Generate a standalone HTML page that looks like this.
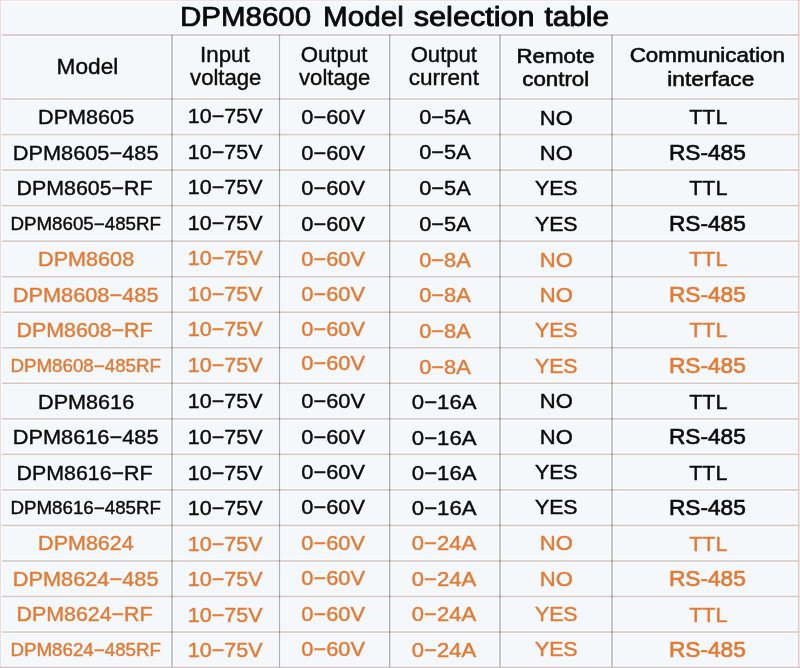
<!DOCTYPE html>
<html><head><meta charset="utf-8"><title>DPM8600 Model selection table</title>
<style>
html,body{margin:0;padding:0;background:#f4f8fa;}
body{width:800px;height:668px;overflow:hidden;position:relative;}
svg{position:absolute;left:0;top:0;display:block;}
text{font-family:"Liberation Sans",Arial,Helvetica,sans-serif;stroke-linejoin:round;}
</style></head><body>
<svg width="800" height="668" viewBox="0 0 800 668">
<rect x="0" y="0" width="800" height="668" fill="#f4f8fa"/>
<g id="grid">
<rect x="170.25" y="35.5" width="3.5" height="633" fill="#ffffff" fill-opacity="0.75"/>
<rect x="277.75" y="35.5" width="3.5" height="633" fill="#ffffff" fill-opacity="0.75"/>
<rect x="387.95" y="35.5" width="3.5" height="633" fill="#ffffff" fill-opacity="0.75"/>
<rect x="498.25" y="35.5" width="3.5" height="633" fill="#ffffff" fill-opacity="0.75"/>
<rect x="610.25" y="35.5" width="3.5" height="633" fill="#ffffff" fill-opacity="0.75"/>
<rect x="0" y="33.10" width="800" height="3.6" fill="#ffffff" fill-opacity="0.75"/>
<rect x="0" y="34.10" width="800" height="1.8" fill="#dac8c6"/>
<rect x="0" y="97.20" width="800" height="3.6" fill="#ffffff" fill-opacity="0.75"/>
<rect x="0" y="98.25" width="800" height="1.55" fill="#d5c7c4"/>
<rect x="0" y="132.73" width="800" height="3.6" fill="#ffffff" fill-opacity="0.75"/>
<rect x="0" y="133.78" width="800" height="1.55" fill="#d5c7c4"/>
<rect x="0" y="168.27" width="800" height="3.6" fill="#ffffff" fill-opacity="0.75"/>
<rect x="0" y="169.32" width="800" height="1.55" fill="#d5c7c4"/>
<rect x="0" y="203.80" width="800" height="3.6" fill="#ffffff" fill-opacity="0.75"/>
<rect x="0" y="204.85" width="800" height="1.55" fill="#d5c7c4"/>
<rect x="0" y="239.33" width="800" height="3.6" fill="#ffffff" fill-opacity="0.75"/>
<rect x="0" y="240.38" width="800" height="1.55" fill="#d5c7c4"/>
<rect x="0" y="274.87" width="800" height="3.6" fill="#ffffff" fill-opacity="0.75"/>
<rect x="0" y="275.92" width="800" height="1.55" fill="#d5c7c4"/>
<rect x="0" y="310.40" width="800" height="3.6" fill="#ffffff" fill-opacity="0.75"/>
<rect x="0" y="311.45" width="800" height="1.55" fill="#d5c7c4"/>
<rect x="0" y="345.93" width="800" height="3.6" fill="#ffffff" fill-opacity="0.75"/>
<rect x="0" y="346.98" width="800" height="1.55" fill="#d5c7c4"/>
<rect x="0" y="381.46" width="800" height="3.6" fill="#ffffff" fill-opacity="0.75"/>
<rect x="0" y="382.51" width="800" height="1.55" fill="#d5c7c4"/>
<rect x="0" y="417.00" width="800" height="3.6" fill="#ffffff" fill-opacity="0.75"/>
<rect x="0" y="418.05" width="800" height="1.55" fill="#d5c7c4"/>
<rect x="0" y="452.53" width="800" height="3.6" fill="#ffffff" fill-opacity="0.75"/>
<rect x="0" y="453.58" width="800" height="1.55" fill="#d5c7c4"/>
<rect x="0" y="488.06" width="800" height="3.6" fill="#ffffff" fill-opacity="0.75"/>
<rect x="0" y="489.11" width="800" height="1.55" fill="#d5c7c4"/>
<rect x="0" y="523.60" width="800" height="3.6" fill="#ffffff" fill-opacity="0.75"/>
<rect x="0" y="524.65" width="800" height="1.55" fill="#d5c7c4"/>
<rect x="0" y="559.13" width="800" height="3.6" fill="#ffffff" fill-opacity="0.75"/>
<rect x="0" y="560.18" width="800" height="1.55" fill="#d5c7c4"/>
<rect x="0" y="594.66" width="800" height="3.6" fill="#ffffff" fill-opacity="0.75"/>
<rect x="0" y="595.71" width="800" height="1.55" fill="#d5c7c4"/>
<rect x="0" y="630.19" width="800" height="3.6" fill="#ffffff" fill-opacity="0.75"/>
<rect x="0" y="631.25" width="800" height="1.55" fill="#d5c7c4"/>
<rect x="171.28" y="34.9" width="1.45" height="634" fill="#b0b4b5" style="mix-blend-mode:multiply"/>
<rect x="278.85" y="34.9" width="1.30" height="634" fill="#b0b4b5" style="mix-blend-mode:multiply"/>
<rect x="389.00" y="34.9" width="1.40" height="634" fill="#b0b4b5" style="mix-blend-mode:multiply"/>
<rect x="499.27" y="34.9" width="1.45" height="634" fill="#b0b4b5" style="mix-blend-mode:multiply"/>
<rect x="611.27" y="34.9" width="1.45" height="634" fill="#b0b4b5" style="mix-blend-mode:multiply"/>
<rect x="0" y="0" width="800" height="2.2" fill="#ffffff" fill-opacity="0.6"/>
<rect x="0" y="0" width="2.3" height="668" fill="#ffffff" fill-opacity="0.6"/>
<rect x="0" y="0" width="800" height="1.0" fill="#ebe3e1"/>
<rect x="0" y="0" width="1.1" height="668" fill="#e6dfdd"/>
<rect x="798.2" y="0" width="1.4" height="668" fill="#d9bfbf"/>
<rect x="799.6" y="0" width="0.4" height="668" fill="#ffffff"/>
<rect x="0" y="666.7" width="800" height="1.3" fill="#d9c1c0"/>
</g>
<g id="labels" style="filter:blur(0.3px)">
<text transform="matrix(1.1016 0 0 1 179.90 26.00)" font-size="26.8" fill="#0b0b0b" stroke="#0b0b0b" stroke-width="0.75">DPM8600</text>
<text transform="matrix(1.1065 0 0 1 323.09 26.00)" font-size="26.8" fill="#0b0b0b" stroke="#0b0b0b" stroke-width="0.75">Model</text>
<text transform="matrix(1.1424 0 0 1 413.77 26.00)" font-size="26.8" fill="#0b0b0b" stroke="#0b0b0b" stroke-width="0.85">selection</text>
<text transform="matrix(1.1106 0 0 1 544.41 26.00)" font-size="26.8" fill="#0b0b0b" stroke="#0b0b0b" stroke-width="0.85">table</text>
<text transform="matrix(1.0443 0 0 1 56.62 73.80)" font-size="21.7" fill="#0b0b0b" stroke="#0b0b0b" stroke-width="0.40">Model</text>
<text transform="matrix(1.0287 0 0 1 200.04 62.40)" font-size="21.7" fill="#0b0b0b" stroke="#0b0b0b" stroke-width="0.40">Input</text>
<text transform="matrix(1.0207 0 0 1 190.07 85.40)" font-size="21.7" fill="#0b0b0b" stroke="#0b0b0b" stroke-width="0.40">voltage</text>
<text transform="matrix(1.0250 0 0 1 300.68 62.40)" font-size="21.7" fill="#0b0b0b" stroke="#0b0b0b" stroke-width="0.40">Output</text>
<text transform="matrix(1.0178 0 0 1 299.07 85.40)" font-size="21.7" fill="#0b0b0b" stroke="#0b0b0b" stroke-width="0.40">voltage</text>
<text transform="matrix(1.0188 0 0 1 410.68 62.40)" font-size="21.7" fill="#0b0b0b" stroke="#0b0b0b" stroke-width="0.40">Output</text>
<text transform="matrix(1.0406 0 0 1 408.69 85.20)" font-size="21.7" fill="#0b0b0b" stroke="#0b0b0b" stroke-width="0.40">current</text>
<text transform="matrix(1.0835 0 0 1 516.50 62.90)" font-size="20.6" fill="#0b0b0b" stroke="#0b0b0b" stroke-width="0.60">Remote</text>
<text transform="matrix(1.0834 0 0 1 522.25 86.00)" font-size="20.6" fill="#0b0b0b" stroke="#0b0b0b" stroke-width="0.60">control</text>
<text transform="matrix(1.0704 0 0 1 629.70 62.10)" font-size="20.9" fill="#0b0b0b" stroke="#0b0b0b" stroke-width="0.60">Communication</text>
<text transform="matrix(1.0851 0 0 1 667.31 86.00)" font-size="20.9" fill="#0b0b0b" stroke="#0b0b0b" stroke-width="0.60">interface</text>
<text transform="matrix(1.0338 0 0 1 38.09 124.25)" font-size="20.9" fill="#0b0b0b" stroke="#0b0b0b" stroke-width="0.40">DPM8605</text>
<text transform="matrix(1.0542 0 0 1 187.82 123.10)" font-size="20.4" fill="#0b0b0b" stroke="#0b0b0b" stroke-width="0.40">10−75V</text>
<text transform="matrix(1.0532 0 0 1 301.31 124.00)" font-size="20.7" fill="#0b0b0b" stroke="#0b0b0b" stroke-width="0.40">0−60V</text>
<text transform="matrix(1.0646 0 0 1 419.20 123.80)" font-size="20.5" fill="#0b0b0b" stroke="#0b0b0b" stroke-width="0.40">0−5A</text>
<text transform="matrix(1.0579 0 0 1 539.87 124.90)" font-size="20.8" fill="#0b0b0b" stroke="#0b0b0b" stroke-width="0.45">NO</text>
<text transform="matrix(1.0386 0 0 1 689.18 123.90)" font-size="20.7" fill="#0b0b0b" stroke="#0b0b0b" stroke-width="0.40">TTL</text>
<text transform="matrix(1.0424 0 0 1 12.68 159.78)" font-size="20.9" fill="#0b0b0b" stroke="#0b0b0b" stroke-width="0.40">DPM8605−485</text>
<text transform="matrix(1.0542 0 0 1 187.82 158.63)" font-size="20.4" fill="#0b0b0b" stroke="#0b0b0b" stroke-width="0.40">10−75V</text>
<text transform="matrix(1.0532 0 0 1 301.31 159.53)" font-size="20.7" fill="#0b0b0b" stroke="#0b0b0b" stroke-width="0.40">0−60V</text>
<text transform="matrix(1.0646 0 0 1 419.20 159.33)" font-size="20.5" fill="#0b0b0b" stroke="#0b0b0b" stroke-width="0.40">0−5A</text>
<text transform="matrix(1.0579 0 0 1 539.87 160.43)" font-size="20.8" fill="#0b0b0b" stroke="#0b0b0b" stroke-width="0.45">NO</text>
<text transform="matrix(1.0214 0 0 1 668.91 159.63)" font-size="22.2" fill="#0b0b0b" stroke="#0b0b0b" stroke-width="0.65">RS-485</text>
<text transform="matrix(1.0232 0 0 1 16.61 195.32)" font-size="20.9" fill="#0b0b0b" stroke="#0b0b0b" stroke-width="0.40">DPM8605−RF</text>
<text transform="matrix(1.0542 0 0 1 187.82 194.17)" font-size="20.4" fill="#0b0b0b" stroke="#0b0b0b" stroke-width="0.40">10−75V</text>
<text transform="matrix(1.0532 0 0 1 301.31 195.07)" font-size="20.7" fill="#0b0b0b" stroke="#0b0b0b" stroke-width="0.40">0−60V</text>
<text transform="matrix(1.0646 0 0 1 419.20 194.87)" font-size="20.5" fill="#0b0b0b" stroke="#0b0b0b" stroke-width="0.40">0−5A</text>
<text transform="matrix(1.0160 0 0 1 534.92 195.27)" font-size="21.0" fill="#0b0b0b" stroke="#0b0b0b" stroke-width="0.45">YES</text>
<text transform="matrix(1.0386 0 0 1 689.18 194.97)" font-size="20.7" fill="#0b0b0b" stroke="#0b0b0b" stroke-width="0.40">TTL</text>
<text transform="matrix(1.0715 0 0 1 10.43 230.25)" font-size="17.5" fill="#0b0b0b" stroke="#0b0b0b" stroke-width="0.40">DPM8605−485RF</text>
<text transform="matrix(1.0542 0 0 1 187.82 229.70)" font-size="20.4" fill="#0b0b0b" stroke="#0b0b0b" stroke-width="0.40">10−75V</text>
<text transform="matrix(1.0532 0 0 1 301.31 230.60)" font-size="20.7" fill="#0b0b0b" stroke="#0b0b0b" stroke-width="0.40">0−60V</text>
<text transform="matrix(1.0646 0 0 1 419.20 230.70)" font-size="20.5" fill="#0b0b0b" stroke="#0b0b0b" stroke-width="0.40">0−5A</text>
<text transform="matrix(1.0160 0 0 1 534.92 230.80)" font-size="21.0" fill="#0b0b0b" stroke="#0b0b0b" stroke-width="0.45">YES</text>
<text transform="matrix(1.0214 0 0 1 668.91 230.70)" font-size="22.2" fill="#0b0b0b" stroke="#0b0b0b" stroke-width="0.65">RS-485</text>
<text transform="matrix(1.0338 0 0 1 38.09 266.38)" font-size="20.9" fill="#e47932" stroke="#e47932" stroke-width="0.40">DPM8608</text>
<text transform="matrix(1.0542 0 0 1 187.82 265.23)" font-size="20.4" fill="#e47932" stroke="#e47932" stroke-width="0.40">10−75V</text>
<text transform="matrix(1.0532 0 0 1 301.31 265.73)" font-size="20.7" fill="#e47932" stroke="#e47932" stroke-width="0.40">0−60V</text>
<text transform="matrix(1.0667 0 0 1 419.20 266.93)" font-size="20.5" fill="#e47932" stroke="#e47932" stroke-width="0.40">0−8A</text>
<text transform="matrix(1.0579 0 0 1 539.87 266.53)" font-size="20.8" fill="#e47932" stroke="#e47932" stroke-width="0.45">NO</text>
<text transform="matrix(1.0386 0 0 1 689.18 266.03)" font-size="20.7" fill="#e47932" stroke="#e47932" stroke-width="0.40">TTL</text>
<text transform="matrix(1.0424 0 0 1 12.68 301.92)" font-size="20.9" fill="#e47932" stroke="#e47932" stroke-width="0.40">DPM8608−485</text>
<text transform="matrix(1.0542 0 0 1 187.82 300.77)" font-size="20.4" fill="#e47932" stroke="#e47932" stroke-width="0.40">10−75V</text>
<text transform="matrix(1.0532 0 0 1 301.31 301.47)" font-size="20.7" fill="#e47932" stroke="#e47932" stroke-width="0.40">0−60V</text>
<text transform="matrix(1.0667 0 0 1 419.20 302.37)" font-size="20.5" fill="#e47932" stroke="#e47932" stroke-width="0.40">0−8A</text>
<text transform="matrix(1.0579 0 0 1 539.87 302.07)" font-size="20.8" fill="#e47932" stroke="#e47932" stroke-width="0.45">NO</text>
<text transform="matrix(1.0214 0 0 1 668.91 301.77)" font-size="22.2" fill="#e47932" stroke="#e47932" stroke-width="0.65">RS-485</text>
<text transform="matrix(1.0232 0 0 1 16.61 337.45)" font-size="20.9" fill="#e47932" stroke="#e47932" stroke-width="0.40">DPM8608−RF</text>
<text transform="matrix(1.0542 0 0 1 187.82 336.30)" font-size="20.4" fill="#e47932" stroke="#e47932" stroke-width="0.40">10−75V</text>
<text transform="matrix(1.0532 0 0 1 301.31 336.20)" font-size="20.7" fill="#e47932" stroke="#e47932" stroke-width="0.40">0−60V</text>
<text transform="matrix(1.0667 0 0 1 419.20 337.80)" font-size="20.5" fill="#e47932" stroke="#e47932" stroke-width="0.40">0−8A</text>
<text transform="matrix(1.0160 0 0 1 534.92 337.40)" font-size="21.0" fill="#e47932" stroke="#e47932" stroke-width="0.45">YES</text>
<text transform="matrix(1.0386 0 0 1 689.18 337.10)" font-size="20.7" fill="#e47932" stroke="#e47932" stroke-width="0.40">TTL</text>
<text transform="matrix(1.0715 0 0 1 10.43 371.88)" font-size="17.5" fill="#e47932" stroke="#e47932" stroke-width="0.40">DPM8608−485RF</text>
<text transform="matrix(1.0542 0 0 1 187.82 371.83)" font-size="20.4" fill="#e47932" stroke="#e47932" stroke-width="0.40">10−75V</text>
<text transform="matrix(1.0532 0 0 1 301.31 370.23)" font-size="20.7" fill="#e47932" stroke="#e47932" stroke-width="0.40">0−60V</text>
<text transform="matrix(1.0667 0 0 1 419.20 373.63)" font-size="20.5" fill="#e47932" stroke="#e47932" stroke-width="0.40">0−8A</text>
<text transform="matrix(1.0160 0 0 1 534.92 372.93)" font-size="21.0" fill="#e47932" stroke="#e47932" stroke-width="0.45">YES</text>
<text transform="matrix(1.0214 0 0 1 668.91 372.83)" font-size="22.2" fill="#e47932" stroke="#e47932" stroke-width="0.65">RS-485</text>
<text transform="matrix(1.0338 0 0 1 38.09 408.51)" font-size="20.9" fill="#0b0b0b" stroke="#0b0b0b" stroke-width="0.40">DPM8616</text>
<text transform="matrix(1.0542 0 0 1 187.82 408.46)" font-size="20.4" fill="#0b0b0b" stroke="#0b0b0b" stroke-width="0.40">10−75V</text>
<text transform="matrix(1.0532 0 0 1 301.31 408.46)" font-size="20.7" fill="#0b0b0b" stroke="#0b0b0b" stroke-width="0.40">0−60V</text>
<text transform="matrix(1.0831 0 0 1 411.79 408.76)" font-size="20.5" fill="#0b0b0b" stroke="#0b0b0b" stroke-width="0.40">0−16A</text>
<text transform="matrix(1.0579 0 0 1 539.87 408.16)" font-size="20.8" fill="#0b0b0b" stroke="#0b0b0b" stroke-width="0.45">NO</text>
<text transform="matrix(1.0386 0 0 1 689.18 408.66)" font-size="20.7" fill="#0b0b0b" stroke="#0b0b0b" stroke-width="0.40">TTL</text>
<text transform="matrix(1.0424 0 0 1 12.68 444.05)" font-size="20.9" fill="#0b0b0b" stroke="#0b0b0b" stroke-width="0.40">DPM8616−485</text>
<text transform="matrix(1.0542 0 0 1 187.82 444.00)" font-size="20.4" fill="#0b0b0b" stroke="#0b0b0b" stroke-width="0.40">10−75V</text>
<text transform="matrix(1.0532 0 0 1 301.31 443.80)" font-size="20.7" fill="#0b0b0b" stroke="#0b0b0b" stroke-width="0.40">0−60V</text>
<text transform="matrix(1.0831 0 0 1 411.79 444.70)" font-size="20.5" fill="#0b0b0b" stroke="#0b0b0b" stroke-width="0.40">0−16A</text>
<text transform="matrix(1.0579 0 0 1 539.87 443.70)" font-size="20.8" fill="#0b0b0b" stroke="#0b0b0b" stroke-width="0.45">NO</text>
<text transform="matrix(1.0214 0 0 1 668.91 443.60)" font-size="22.2" fill="#0b0b0b" stroke="#0b0b0b" stroke-width="0.65">RS-485</text>
<text transform="matrix(1.0232 0 0 1 16.61 479.58)" font-size="20.9" fill="#0b0b0b" stroke="#0b0b0b" stroke-width="0.40">DPM8616−RF</text>
<text transform="matrix(1.0542 0 0 1 187.82 479.53)" font-size="20.4" fill="#0b0b0b" stroke="#0b0b0b" stroke-width="0.40">10−75V</text>
<text transform="matrix(1.0532 0 0 1 301.31 478.73)" font-size="20.7" fill="#0b0b0b" stroke="#0b0b0b" stroke-width="0.40">0−60V</text>
<text transform="matrix(1.0831 0 0 1 411.79 479.83)" font-size="20.5" fill="#0b0b0b" stroke="#0b0b0b" stroke-width="0.40">0−16A</text>
<text transform="matrix(1.0160 0 0 1 534.92 478.93)" font-size="21.0" fill="#0b0b0b" stroke="#0b0b0b" stroke-width="0.45">YES</text>
<text transform="matrix(1.0386 0 0 1 689.18 479.73)" font-size="20.7" fill="#0b0b0b" stroke="#0b0b0b" stroke-width="0.40">TTL</text>
<text transform="matrix(1.0715 0 0 1 10.43 514.01)" font-size="17.5" fill="#0b0b0b" stroke="#0b0b0b" stroke-width="0.40">DPM8616−485RF</text>
<text transform="matrix(1.0542 0 0 1 187.82 515.06)" font-size="20.4" fill="#0b0b0b" stroke="#0b0b0b" stroke-width="0.40">10−75V</text>
<text transform="matrix(1.0532 0 0 1 301.31 514.26)" font-size="20.7" fill="#0b0b0b" stroke="#0b0b0b" stroke-width="0.40">0−60V</text>
<text transform="matrix(1.0831 0 0 1 411.79 515.36)" font-size="20.5" fill="#0b0b0b" stroke="#0b0b0b" stroke-width="0.40">0−16A</text>
<text transform="matrix(1.0160 0 0 1 534.92 514.46)" font-size="21.0" fill="#0b0b0b" stroke="#0b0b0b" stroke-width="0.45">YES</text>
<text transform="matrix(1.0214 0 0 1 668.91 514.66)" font-size="22.2" fill="#0b0b0b" stroke="#0b0b0b" stroke-width="0.65">RS-485</text>
<text transform="matrix(1.0295 0 0 1 38.10 550.05)" font-size="20.9" fill="#e47932" stroke="#e47932" stroke-width="0.40">DPM8624</text>
<text transform="matrix(1.0542 0 0 1 187.82 550.50)" font-size="20.4" fill="#e47932" stroke="#e47932" stroke-width="0.40">10−75V</text>
<text transform="matrix(1.0532 0 0 1 301.31 549.80)" font-size="20.7" fill="#e47932" stroke="#e47932" stroke-width="0.40">0−60V</text>
<text transform="matrix(1.0746 0 0 1 411.79 550.40)" font-size="20.5" fill="#e47932" stroke="#e47932" stroke-width="0.40">0−24A</text>
<text transform="matrix(1.0579 0 0 1 539.87 549.90)" font-size="20.8" fill="#e47932" stroke="#e47932" stroke-width="0.45">NO</text>
<text transform="matrix(1.0386 0 0 1 689.18 550.60)" font-size="20.7" fill="#e47932" stroke="#e47932" stroke-width="0.40">TTL</text>
<text transform="matrix(1.0424 0 0 1 12.68 585.58)" font-size="20.9" fill="#e47932" stroke="#e47932" stroke-width="0.40">DPM8624−485</text>
<text transform="matrix(1.0542 0 0 1 187.82 586.03)" font-size="20.4" fill="#e47932" stroke="#e47932" stroke-width="0.40">10−75V</text>
<text transform="matrix(1.0532 0 0 1 301.31 585.33)" font-size="20.7" fill="#e47932" stroke="#e47932" stroke-width="0.40">0−60V</text>
<text transform="matrix(1.0746 0 0 1 411.79 585.93)" font-size="20.5" fill="#e47932" stroke="#e47932" stroke-width="0.40">0−24A</text>
<text transform="matrix(1.0579 0 0 1 539.87 585.73)" font-size="20.8" fill="#e47932" stroke="#e47932" stroke-width="0.45">NO</text>
<text transform="matrix(1.0214 0 0 1 668.91 585.73)" font-size="22.2" fill="#e47932" stroke="#e47932" stroke-width="0.65">RS-485</text>
<text transform="matrix(1.0232 0 0 1 16.61 621.11)" font-size="20.9" fill="#e47932" stroke="#e47932" stroke-width="0.40">DPM8624−RF</text>
<text transform="matrix(1.0542 0 0 1 187.82 621.56)" font-size="20.4" fill="#e47932" stroke="#e47932" stroke-width="0.40">10−75V</text>
<text transform="matrix(1.0532 0 0 1 301.31 620.86)" font-size="20.7" fill="#e47932" stroke="#e47932" stroke-width="0.40">0−60V</text>
<text transform="matrix(1.0746 0 0 1 411.79 621.46)" font-size="20.5" fill="#e47932" stroke="#e47932" stroke-width="0.40">0−24A</text>
<text transform="matrix(1.0160 0 0 1 534.92 620.76)" font-size="21.0" fill="#e47932" stroke="#e47932" stroke-width="0.45">YES</text>
<text transform="matrix(1.0386 0 0 1 689.18 621.66)" font-size="20.7" fill="#e47932" stroke="#e47932" stroke-width="0.40">TTL</text>
<text transform="matrix(1.0715 0 0 1 10.43 656.14)" font-size="17.5" fill="#e47932" stroke="#e47932" stroke-width="0.40">DPM8624−485RF</text>
<text transform="matrix(1.0542 0 0 1 187.82 657.10)" font-size="20.4" fill="#e47932" stroke="#e47932" stroke-width="0.40">10−75V</text>
<text transform="matrix(1.0532 0 0 1 301.31 656.00)" font-size="20.7" fill="#e47932" stroke="#e47932" stroke-width="0.40">0−60V</text>
<text transform="matrix(1.0746 0 0 1 411.79 657.00)" font-size="20.5" fill="#e47932" stroke="#e47932" stroke-width="0.40">0−24A</text>
<text transform="matrix(1.0160 0 0 1 534.92 656.39)" font-size="21.0" fill="#e47932" stroke="#e47932" stroke-width="0.45">YES</text>
<text transform="matrix(1.0214 0 0 1 668.91 656.80)" font-size="22.2" fill="#e47932" stroke="#e47932" stroke-width="0.65">RS-485</text>
</g>
</svg>
</body></html>
